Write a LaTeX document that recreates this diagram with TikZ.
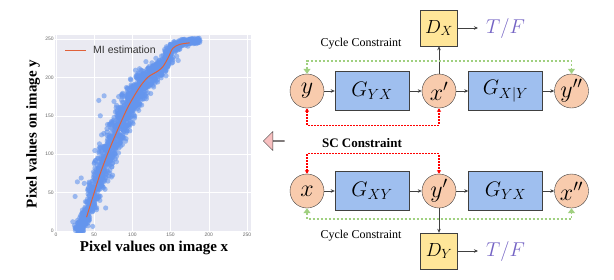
\RequirePackage{fix-cm}
\documentclass[tikz,border=0pt]{standalone}
\usepackage{fontspec}
\setmainfont{Liberation Serif}
\newfontfamily\plotfont{Liberation Sans}
\usetikzlibrary{arrows.meta, positioning, shapes.arrows, calc}

\definecolor{circfill}{HTML}{F8CBAD}
\definecolor{genblue}{HTML}{9FBFEF}
\definecolor{discyellow}{HTML}{FFE699}
\definecolor{tfpurple}{HTML}{7463C4}
\definecolor{cycgreen}{HTML}{A0D080}
\definecolor{plotbg}{HTML}{EAEAF2}
\definecolor{dotblue}{HTML}{6495ED}
\definecolor{mired}{HTML}{E0613A}
\definecolor{arrowpink}{HTML}{F8C0C0}

\begin{document}
\begin{tikzpicture}[x=1pt, y=-1pt,
    var/.style={circle, draw=black!75, fill=circfill, minimum size=34pt,
                inner sep=0pt, font=\fontsize{24}{24}\selectfont},
    gen/.style={draw=black!75, fill=genblue, minimum width=74pt,
                minimum height=39pt, inner sep=0pt, font=\fontsize{21}{21}\selectfont},
    disc/.style={draw=black!75, fill=discyellow, minimum width=37pt,
                 minimum height=36pt, inner sep=0pt, font=\fontsize{19}{19}\selectfont},
    tf/.style={text=tfpurple, font=\fontsize{20}{20}\selectfont,
               inner sep=0pt, anchor=west},
    lbl/.style={font=\fontsize{12}{12}\selectfont, inner sep=0pt},
    arr/.style={-{Stealth[length=4pt, width=3.5pt]}, draw=black!75, line width=0.6pt},
    cyc/.style={{Triangle[length=5pt, width=7pt]}-{Triangle[length=5pt, width=7pt]},
                color=cycgreen, dash pattern=on 2pt off 2pt, line width=1.8pt},
    scc/.style={{Triangle[length=3.5pt, width=4pt]}-{Triangle[length=3.5pt, width=4pt]},
                color=red, dash pattern=on 1.5pt off 1.5pt, line width=1.3pt},
    grid/.style={draw=white, line width=0.6pt},
    tick/.style={font=\plotfont\fontsize{5}{5}\selectfont, text=black!60, inner sep=1pt},
    dot/.style={fill=dotblue, fill opacity=0.6},
    mi/.style={draw=mired, line width=1pt},
    axlbl/.style={font=\fontsize{15}{15}\selectfont\bfseries, inner sep=0pt},
    >=Stealth
  ]
  \useasboundingbox (0,0) rectangle (614,279);

  % Scatter plot
  \begin{scope}[shift={(56,231)}, x=0.764pt, y=0.768pt]
    \fill[plotbg] (-1.5,-1.5) rectangle (255.5,255.5);
    \foreach \v in {0,50,...,250} {
      \draw[grid] (\v,-1.5) -- (\v,255.5);
      \draw[grid] (-1.5,\v) -- (255.5,\v);
      \node[tick, anchor=north] (xt\v) at (\v,-1.5) {\v};
      \node[tick, anchor=east] (yt\v) at (-1.5,\v) {\v};
    }
    \begin{scope}
      \clip (-1.5,-1.5) rectangle (255.5,255.5);
      \pgfmathsetseed{11}
      \foreach \xa/\ya/\xb/\yb/\s/\n in {
          28/0/40/18/8/110, 40/18/50/50/10/110, 50/50/58/75/13/100,
          58/75/71/109/15/150, 71/109/92/157/16/230, 92/157/105/180/16/150,
          105/180/119/200/15/150, 119/200/140/214/12/140, 140/214/153/240/9/100,
          153/240/170/246/6/80, 170/246/188/248/3/60} {
        \foreach \i in {1,...,\n} {
          \pgfmathsetmacro{\t}{rnd}
          \pgfmathsetmacro{\px}{\xa+\t*(\xb-\xa)+\s*(rand+rand)/2}
          \pgfmathsetmacro{\py}{\ya+\t*(\yb-\ya)+1.3*\s*(rand+rand)/2}
          \fill[dot] (\px,\py) circle[radius=2.6pt];
        }
      }
      % outliers
      \foreach \px/\py in {22/12, 25/45, 28/64, 33/69, 37/62, 56/170,
                           58/150, 63/176, 160/222, 48/6, 65/30} {
        \fill[dot] (\px,\py) circle[radius=2.6pt];
      }
    \end{scope}
    \draw[mi] plot[smooth] coordinates {(40,18) (50,50) (58,75) (71,109)
      (92,157) (108,185) (120,200) (133,208) (140,214) (147,226) (153,238)
      (162,243) (175,245)};
  \end{scope}

  % Legend and axis labels
  \draw[mi] (65,50) -- (86,50);
  \node[font=\plotfont\fontsize{10.5}{10.5}\selectfont, text=black!80, anchor=west,
        inner sep=0pt] (leg) at (93,50) {MI estimation};
  \node[axlbl] (xlab) at (154,248) {Pixel values on image x};
  \node[axlbl, rotate=90] (ylab) at (33,134) {Pixel values on image y};

  % Back arrow
  \node[single arrow, draw=black!75, fill=arrowpink, shape border rotate=180,
        minimum height=21pt, minimum width=19pt, single arrow head extend=5pt,
        inner sep=0pt] (back) at (274,141) {};

  % Top row: y -> x' -> y''
  \node[var] (y) at (307,91) {$y$};
  \node[gen] (gyx) at (372,91) {$G_{YX}$};
  \node[var] (xp) at (439,91) {$x'$};
  \node[gen] (gxy2) at (505.5,91) {$G_{X|Y}$};
  \node[var] (ypp) at (571.5,91) {$y''$};
  \node[disc] (dx) at (439,28) {$D_X$};
  \node[tf] (tfx) at (486,28) {$T/F$};
  \node[lbl] (cyc1) at (361,44) {Cycle Constraint};

  % Bottom row: x -> y' -> x''
  \node[var] (x) at (307,191) {$x$};
  \node[gen] (gxy) at (372,191) {$G_{XY}$};
  \node[var] (yp) at (439,191) {$y'$};
  \node[gen] (gyx2) at (505.5,191) {$G_{YX}$};
  \node[var] (xpp) at (571.5,191) {$x''$};
  \node[disc] (dy) at (439,251) {$D_Y$};
  \node[tf] (tfy) at (486,251) {$T/F$};
  \node[lbl] (cyc2) at (361,236) {Cycle Constraint};
  \node[lbl, font=\fontsize{13}{13}\selectfont\bfseries] (sc) at (362,143) {SC Constraint};

  % Flow arrows
  \draw[arr] (y) -- (gyx);
  \draw[arr] (gyx) -- (xp);
  \draw[arr] (xp) -- (gxy2);
  \draw[arr] (gxy2) -- (ypp);
  \draw[arr] (xp) -- (dx);
  \draw[arr] (dx.east) -- ([xshift=-8pt]tfx.west);
  \draw[arr] (x) -- (gxy);
  \draw[arr] (gxy) -- (yp);
  \draw[arr] (yp) -- (gyx2);
  \draw[arr] (gyx2) -- (xpp);
  \draw[arr] (yp) -- (dy);
  \draw[arr] (dy.east) -- ([xshift=-8pt]tfy.west);

  % Constraints
  \draw[cyc] (y.north) -- ++(0,-13) -| (ypp.north);
  \draw[scc] (y.south) -- ++(0,17) -| (xp.south);
  \draw[scc] (x.north) -- ++(0,-20) -| (yp.north);
  \draw[cyc] (x.south) -- ++(0,11) -| (xpp.south);
\end{tikzpicture}
\end{document}
